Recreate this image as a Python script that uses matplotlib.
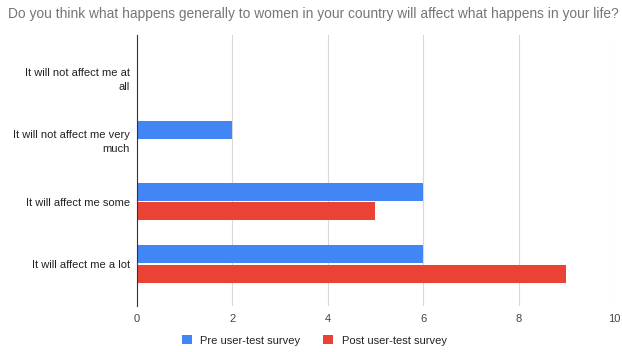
import numpy as np
import matplotlib
matplotlib.use("Agg")
import matplotlib.pyplot as plt

plt.rcParams['font.family'] = ['Liberation Sans', 'DejaVu Sans']

categories = ["It will not affect me at\nall",
              "It will not affect me very\nmuch",
              "It will affect me some",
              "It will affect me a lot"]
pre_survey = [0, 2, 6, 6]
post_survey = [0, 0, 5, 9]
series_names = ["Pre user-test survey", "Post user-test survey"]

fig = plt.figure(figsize=(6.22, 3.52), dpi=100)
ax = fig.add_axes([0.2203, 0.1307, 0.7667, 0.7699])

y = np.arange(len(categories))
h = 0.29
ax.barh(y - h / 2 - 0.01, pre_survey, height=h, color="#4285F4", label=series_names[0], zorder=3)
ax.barh(y + h / 2 + 0.01, post_survey, height=h, color="#EA4335", label=series_names[1], zorder=3)

ax.set_xlim(0, 10)
ax.set_ylim(3.675, -0.675)
ax.set_xticks([0, 2, 4, 6, 8, 10])
ax.set_yticks(y)
ax.set_yticklabels(categories, fontsize=8, color="#222222", linespacing=1.5)
ax.tick_params(axis='x', labelsize=8, labelcolor="#444444", length=0, pad=6)
ax.tick_params(axis='y', length=0, pad=5)
ax.grid(axis='x', color="#d9d9d9", linewidth=0.8, zorder=0)
for s in ['top', 'right', 'bottom']:
    ax.spines[s].set_visible(False)
ax.spines['left'].set_color("#333333")
ax.spines['left'].set_zorder(4)

fig.text(0.013, 0.96, "Do you think what happens generally to women in your country will affect what happens in your life?",
         fontsize=9.9, color="#757575", va='center', ha='left')

fig.legend(loc='center', bbox_to_anchor=(0.505, 0.033), ncol=2, frameon=False,
           fontsize=8, handlelength=0.9, handleheight=0.9, columnspacing=2.0, handletextpad=0.8,
           labelcolor="#222222")

fig.savefig("out.png", dpi=100)
